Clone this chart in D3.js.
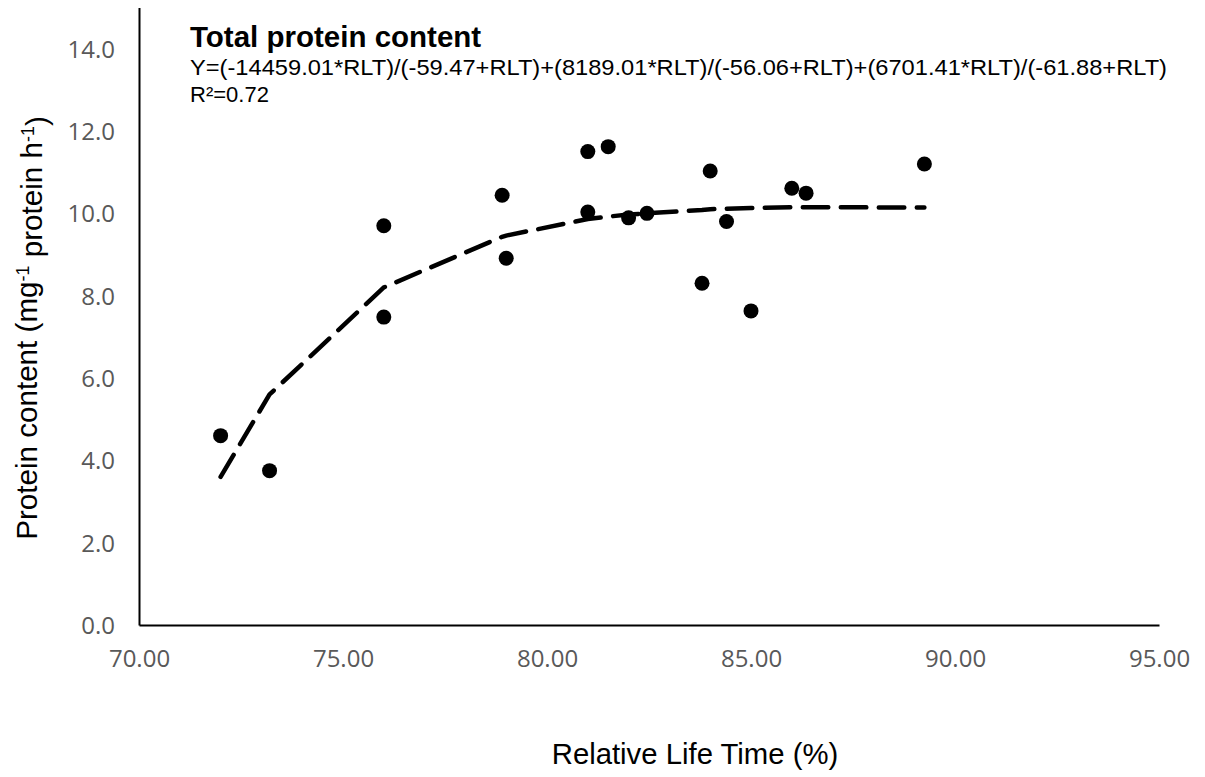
<!DOCTYPE html>
<html>
<head>
<meta charset="utf-8">
<script src="https://cdn.jsdelivr.net/npm/d3@7"></script>
<style>
  html, body { margin: 0; padding: 0; background: #fff; }
  svg { display: block; }
</style>
</head>
<body>
<svg id="chart" width="1205" height="777"></svg>
<script>
// Observed protein content against relative life time
const rlt = [72.0, 73.2, 76.0, 76.0, 78.9, 79.0, 81.0, 81.5, 81.0, 82.0, 82.45, 83.8, 84.0, 84.4, 85.0, 86.0, 86.35, 89.25];
const protein = [4.6, 3.75, 9.7, 7.48, 10.44, 8.91, 11.5, 11.62, 10.03, 9.89, 10.0, 8.3, 11.03, 9.8, 7.63, 10.61, 10.49, 11.2];

// Fitted curve values at the observed RLT positions
const fitX = [72.0, 73.2, 76.0, 78.9, 79.0, 81.0, 81.5, 82.0, 82.45, 83.8, 84.0, 84.4, 85.0, 86.0, 86.35, 89.25];
const fitY = [3.6, 5.6, 8.2, 9.43, 9.46, 9.86, 9.92, 9.97, 10.0, 10.08, 10.1, 10.11, 10.13, 10.15, 10.15, 10.14];

const xTicks = [70, 75, 80, 85, 90, 95];
const yTicks = [0, 2, 4, 6, 8, 10, 12, 14];

const titleText = "Total protein content";
const equationText = "Y=(-14459.01*RLT)/(-59.47+RLT)+(8189.01*RLT)/(-56.06+RLT)+(6701.41*RLT)/(-61.88+RLT)";
const r2Text = "R\u00B2=0.72";

const svg = d3.select("#chart");
const plot = { left: 139, right: 1159, top: 7.5, bottom: 625 };

const x = d3.scaleLinear().domain([70, 95]).range([plot.left, plot.right]);
const y = d3.scaleLinear().domain([0, 15]).range([plot.bottom, plot.top]);

// Axes: plain black lines, no tick marks
const xAxis = svg.append("g")
  .attr("transform", `translate(0,${plot.bottom})`)
  .call(d3.axisBottom(x).tickValues(xTicks).tickSize(0).tickPadding(25).tickFormat(d3.format(".2f")));
const yAxis = svg.append("g")
  .attr("transform", `translate(${plot.left},0)`)
  .call(d3.axisLeft(y).tickValues(yTicks).tickSize(0).tickPadding(24).tickFormat(d3.format(".1f")));

[xAxis, yAxis].forEach(g => {
  g.select(".domain").attr("stroke", "#000").attr("stroke-width", 2);
  g.selectAll("text")
    .attr("fill", "#595959")
    .style("font-family", "'Open Sans', sans-serif")
    .style("font-size", "24px");
});
yAxis.selectAll("text").attr("dy", "0.36em");

// Dashed fitted curve
const line = d3.line().x((d, i) => x(fitX[i])).y((d, i) => y(fitY[i]));
svg.append("path")
  .datum(fitY)
  .attr("d", line)
  .attr("fill", "none")
  .attr("stroke", "#000")
  .attr("stroke-width", 4.5)
  .attr("stroke-linecap", "round")
  .attr("stroke-dasharray", "25.5 12.5");

// Observed points
svg.append("g")
  .selectAll("circle")
  .data(protein)
  .join("circle")
  .attr("cx", (d, i) => x(rlt[i]))
  .attr("cy", d => y(d))
  .attr("r", 7.5)
  .attr("fill", "#000");

// Title, equation and R²
const ann = svg.append("g").style("font-family", "'Liberation Sans', Arial, sans-serif").attr("fill", "#000");
ann.append("text").attr("x", 190).attr("y", 46.5)
  .style("font-size", "29.5px").style("font-weight", "bold")
  .text(titleText);
ann.append("text").attr("x", 190).attr("y", 74.5)
  .style("font-size", "22px")
  .attr("textLength", 977).attr("lengthAdjust", "spacingAndGlyphs")
  .text(equationText);
ann.append("text").attr("x", 190).attr("y", 102)
  .style("font-size", "22px")
  .text(r2Text);

// Axis titles
const yTitle = svg.append("text")
  .attr("transform", "translate(37,328) rotate(-90)")
  .attr("text-anchor", "middle")
  .style("font-family", "'Liberation Sans', Arial, sans-serif")
  .style("font-size", "29.6px")
  .attr("fill", "#000");
yTitle.append("tspan").text("Protein content (mg");
yTitle.append("tspan").attr("dy", "-0.45em").style("font-size", "18px").text("-1");
yTitle.append("tspan").attr("dy", "0.45em").text(" protein h");
yTitle.append("tspan").attr("dy", "-0.45em").style("font-size", "18px").text("-1");
yTitle.append("tspan").attr("dy", "0.45em").text(")");

svg.append("text")
  .attr("x", 695)
  .attr("y", 764)
  .attr("text-anchor", "middle")
  .style("font-family", "'Liberation Sans', Arial, sans-serif")
  .style("font-size", "29.3px")
  .attr("fill", "#000")
  .text("Relative Life Time (%)");
</script>
</body>
</html>
